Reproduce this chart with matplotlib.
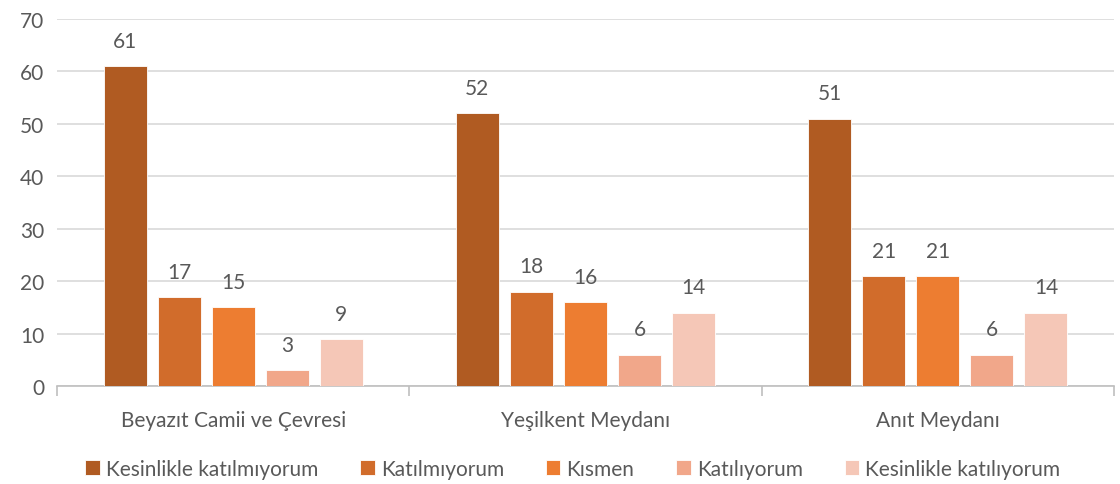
import numpy as np
import matplotlib.pyplot as plt

# ---------------------------------------------------------------------------
# Data
# ---------------------------------------------------------------------------

LOCATIONS = ["Beyazıt Camii ve Çevresi", "Yeşilkent Meydanı", "Anıt Meydanı"]
RESPONSES = ["Kesinlikle katılmıyorum", "Katılmıyorum", "Kısmen",
             "Katılıyorum", "Kesinlikle katılıyorum"]
VALUES = [
    [61, 52, 51],   # Kesinlikle katılmıyorum
    [17, 18, 21],   # Katılmıyorum
    [15, 16, 21],   # Kısmen
    [3, 6, 6],      # Katılıyorum
    [9, 14, 14],    # Kesinlikle katılıyorum
]
Y_TICKS = [0, 10, 20, 30, 40, 50, 60, 70]

COLORS = ["#B05B22", "#D16C2B", "#ED7D31", "#F1A78A", "#F5C7B7"]
TEXT = "#595959"

plt.rcParams["font.family"] = ["Lato", "DejaVu Sans"]

fig = plt.figure(figsize=(11.2, 4.85), dpi=100)
ax = fig.add_axes([57 / 1120, 1 - 387 / 485, (1114 - 57) / 1120, (387 - 20) / 485])

x = np.arange(len(LOCATIONS))
pitch = 54 / 352
width = 43 / 352
for i, (name, vals) in enumerate(zip(RESPONSES, VALUES)):
    pos = x + (i - 2) * pitch
    bars = ax.bar(pos, vals, width=width, color=COLORS[i], label=name,
                  edgecolor="white", linewidth=0.6, zorder=3)
    for b, v in zip(bars, vals):
        ax.annotate(str(v), (b.get_x() + b.get_width() / 2, v),
                    xytext=(0, 11), textcoords="offset points",
                    ha="center", va="bottom", fontsize=15, color=TEXT)

ax.set_xlim(-0.5, len(LOCATIONS) - 0.5)
ax.set_ylim(0, 70)
ax.set_yticks(Y_TICKS)
ax.grid(axis="y", color="#D9D9D9", linewidth=1.2, zorder=0)
ax.set_axisbelow(True)

for s in ["top", "right", "left"]:
    ax.spines[s].set_visible(False)
ax.spines["bottom"].set_color("#BFBFBF")
ax.spines["bottom"].set_linewidth(1.2)

ax.set_xticks(x)
ax.set_xticklabels(LOCATIONS)
ax.tick_params(axis="x", length=0, pad=17, labelsize=15, labelcolor=TEXT)
ax.set_xticks(np.arange(len(LOCATIONS) + 1) - 0.5, minor=True)
ax.tick_params(axis="x", which="minor", length=7, color="#BFBFBF", width=1.2)
ax.tick_params(axis="y", length=0, pad=9, labelsize=15, labelcolor=TEXT)

ax.legend(loc="center", bbox_to_anchor=(0.488, -0.225), ncol=5,
          frameon=False, fontsize=15, labelcolor=TEXT,
          handlelength=0.7, handleheight=0.7, handletextpad=0.3,
          columnspacing=2.0)

fig.savefig("out.png", dpi=100)
